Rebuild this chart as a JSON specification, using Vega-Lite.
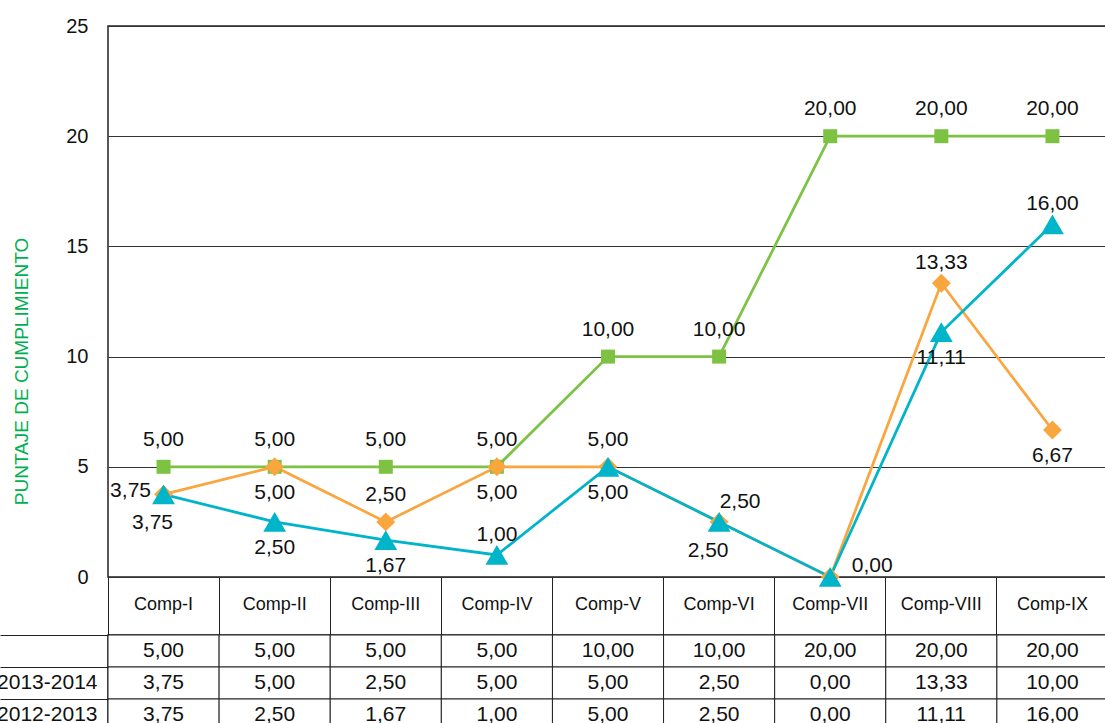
{
  "$schema": "https://vega.github.io/schema/vega-lite/v6.json",
  "padding": {"left": -5, "top": 15, "right": 0, "bottom": 0},
  "bounds": "flush",
  "spacing": 58,
  "config": {
    "locale": {"number": {"decimal": ",", "thousands": ".", "grouping": [3], "currency": ["", ""]}},
    "font": "Liberation Sans",
    "view": {"stroke": "#222", "strokeWidth": 1.5}
  },
  "datasets": {
    "d": [
      {"cat": "Comp-I", "series": "", "value": 5, "table": 5},
      {"cat": "Comp-II", "series": "", "value": 5, "table": 5},
      {"cat": "Comp-III", "series": "", "value": 5, "table": 5},
      {"cat": "Comp-IV", "series": "", "value": 5, "table": 5},
      {"cat": "Comp-V", "series": "", "value": 10, "table": 10},
      {"cat": "Comp-VI", "series": "", "value": 10, "table": 10},
      {"cat": "Comp-VII", "series": "", "value": 20, "table": 20},
      {"cat": "Comp-VIII", "series": "", "value": 20, "table": 20},
      {"cat": "Comp-IX", "series": "", "value": 20, "table": 20},
      {"cat": "Comp-I", "series": "2013-2014", "value": 3.75, "table": 3.75},
      {"cat": "Comp-II", "series": "2013-2014", "value": 5, "table": 5},
      {"cat": "Comp-III", "series": "2013-2014", "value": 2.5, "table": 2.5},
      {"cat": "Comp-IV", "series": "2013-2014", "value": 5, "table": 5},
      {"cat": "Comp-V", "series": "2013-2014", "value": 5, "table": 5},
      {"cat": "Comp-VI", "series": "2013-2014", "value": 2.5, "table": 2.5},
      {"cat": "Comp-VII", "series": "2013-2014", "value": 0, "table": 0},
      {"cat": "Comp-VIII", "series": "2013-2014", "value": 13.33, "table": 13.33},
      {"cat": "Comp-IX", "series": "2013-2014", "value": 6.67, "table": 10},
      {"cat": "Comp-I", "series": "2012-2013", "value": 3.75, "table": 3.75},
      {"cat": "Comp-II", "series": "2012-2013", "value": 2.5, "table": 2.5},
      {"cat": "Comp-III", "series": "2012-2013", "value": 1.67, "table": 1.67},
      {"cat": "Comp-IV", "series": "2012-2013", "value": 1, "table": 1},
      {"cat": "Comp-V", "series": "2012-2013", "value": 5, "table": 5},
      {"cat": "Comp-VI", "series": "2012-2013", "value": 2.5, "table": 2.5},
      {"cat": "Comp-VII", "series": "2012-2013", "value": 0, "table": 0},
      {"cat": "Comp-VIII", "series": "2012-2013", "value": 11.11, "table": 11.11},
      {"cat": "Comp-IX", "series": "2012-2013", "value": 16, "table": 16}
    ]
  },
  "vconcat": [
    {
      "width": 1000,
      "height": 551,
      "data": {"name": "d"},
      "encoding": {
        "x": {
          "field": "cat", "type": "nominal", "sort": null,
          "scale": {"type": "band", "paddingInner": 0, "paddingOuter": 0},
          "axis": {
            "title": null, "bandPosition": 0, "tickSize": 58, "tickColor": "#222", "tickWidth": 1,
            "domain": false, "grid": false, "labelAngle": 0, "labelFontSize": 18, "labelColor": "#111",
            "labelPadding": -31, "labelBaseline": "middle", "labelAlign": "center"
          }
        },
        "y": {
          "field": "value", "type": "quantitative",
          "scale": {"domain": [0, 25], "nice": false},
          "axis": {
            "values": [0, 5, 10, 15, 20, 25], "title": "PUNTAJE DE CUMPLIMIENTO",
            "titleColor": "#00B050", "titleFontSize": 19, "titleFontWeight": "normal", "titlePadding": 34,
            "titleY": 345,
            "labelFontSize": 20, "labelColor": "#111", "labelPadding": 20, "ticks": false, "domain": false,
            "grid": true, "gridColor": "#333", "gridWidth": 1
          }
        }
      },
      "layer": [
        {
          "mark": {"type": "line", "strokeWidth": 2.75},
          "encoding": {
            "color": {"field": "series", "type": "nominal", "legend": null,
              "scale": {"domain": ["", "2013-2014", "2012-2013"], "range": ["#7DC243", "#F9A63F", "#00B4CA"]}}
          }
        },
        {
          "mark": {"type": "point", "filled": true, "opacity": 1},
          "encoding": {
            "color": {"field": "series", "type": "nominal", "legend": null,
              "scale": {"domain": ["", "2013-2014", "2012-2013"], "range": ["#7DC243", "#F9A63F", "#00B4CA"]}},
            "shape": {"field": "series", "type": "nominal", "legend": null,
              "scale": {"domain": ["", "2013-2014", "2012-2013"], "range": ["square", "diamond", "triangle-up"]}},
            "size": {"field": "series", "type": "ordinal", "legend": null,
              "scale": {"domain": ["", "2013-2014", "2012-2013"], "range": [196, 520, 420]}}
          }
        },
        {
          "transform": [{"filter": "datum.series=='' || (datum.series=='2013-2014' && indexof(['Comp-III'], datum.cat)>=0) || (datum.series=='2012-2013' && indexof(['Comp-V'], datum.cat)>=0)"}],
          "mark": {"type": "text", "fontSize": 21, "color": "#111", "baseline": "middle", "dy": -27},
          "encoding": {"text": {"field": "value", "type": "quantitative", "format": ".2f"}}
        },
        {
          "transform": [{"filter": "(datum.series=='2013-2014' && datum.cat=='Comp-VIII') || (datum.series=='2012-2013' && indexof(['Comp-IV','Comp-IX'], datum.cat)>=0)"}],
          "mark": {"type": "text", "fontSize": 21, "color": "#111", "baseline": "middle", "dy": -20},
          "encoding": {"text": {"field": "value", "type": "quantitative", "format": ".2f"}}
        },
        {
          "transform": [{"filter": "(datum.series=='2013-2014' && indexof(['Comp-II','Comp-IV','Comp-V','Comp-IX'], datum.cat)>=0) || (datum.series=='2012-2013' && indexof(['Comp-II','Comp-III','Comp-VIII'], datum.cat)>=0)"}],
          "mark": {"type": "text", "fontSize": 21, "color": "#111", "baseline": "middle", "dy": 26},
          "encoding": {"text": {"field": "value", "type": "quantitative", "format": ".2f"}}
        },
        {
          "transform": [{"filter": "datum.series=='2013-2014' && datum.cat=='Comp-I'"}],
          "mark": {"type": "text", "fontSize": 21, "color": "#111", "baseline": "middle", "dx": -33, "dy": -3},
          "encoding": {"text": {"field": "value", "type": "quantitative", "format": ".2f"}}
        },
        {
          "transform": [{"filter": "datum.series=='2013-2014' && datum.cat=='Comp-VI'"}],
          "mark": {"type": "text", "fontSize": 21, "color": "#111", "baseline": "middle", "dx": 21, "dy": -20},
          "encoding": {"text": {"field": "value", "type": "quantitative", "format": ".2f"}}
        },
        {
          "transform": [{"filter": "datum.series=='2013-2014' && datum.cat=='Comp-VII'"}],
          "mark": {"type": "text", "fontSize": 21, "color": "#111", "baseline": "middle", "dx": 42, "dy": -11},
          "encoding": {"text": {"field": "value", "type": "quantitative", "format": ".2f"}}
        },
        {
          "transform": [{"filter": "datum.series=='2012-2013' && indexof(['Comp-I','Comp-VI'], datum.cat)>=0"}],
          "mark": {"type": "text", "fontSize": 21, "color": "#111", "baseline": "middle", "dx": -11, "dy": 29},
          "encoding": {"text": {"field": "value", "type": "quantitative", "format": ".2f"}}
        }
      ]
    },
    {
      "width": 1000,
      "height": 96,
      "data": {"name": "d"},
      "encoding": {
        "x": {"field": "cat", "type": "nominal", "sort": null,
          "scale": {"type": "band", "paddingInner": 0, "paddingOuter": 0}, "axis": null},
        "y": {"field": "series", "type": "nominal", "sort": ["", "2013-2014", "2012-2013"],
          "scale": {"type": "band", "paddingInner": 0, "paddingOuter": 0},
          "axis": {
            "title": null, "bandPosition": 0, "tickSize": 108, "tickColor": "#222", "tickWidth": 1,
            "domain": false, "grid": false, "labelFontSize": 21, "labelColor": "#111",
            "labelPadding": -97, "labelBaseline": "middle"
          }
        }
      },
      "layer": [
        {"mark": {"type": "rect", "fill": "white", "stroke": "#222", "strokeWidth": 1}},
        {
          "mark": {"type": "text", "fontSize": 21, "color": "#111", "baseline": "middle"},
          "encoding": {"text": {"field": "table", "type": "quantitative", "format": ".2f"}}
        }
      ]
    }
  ]
}
